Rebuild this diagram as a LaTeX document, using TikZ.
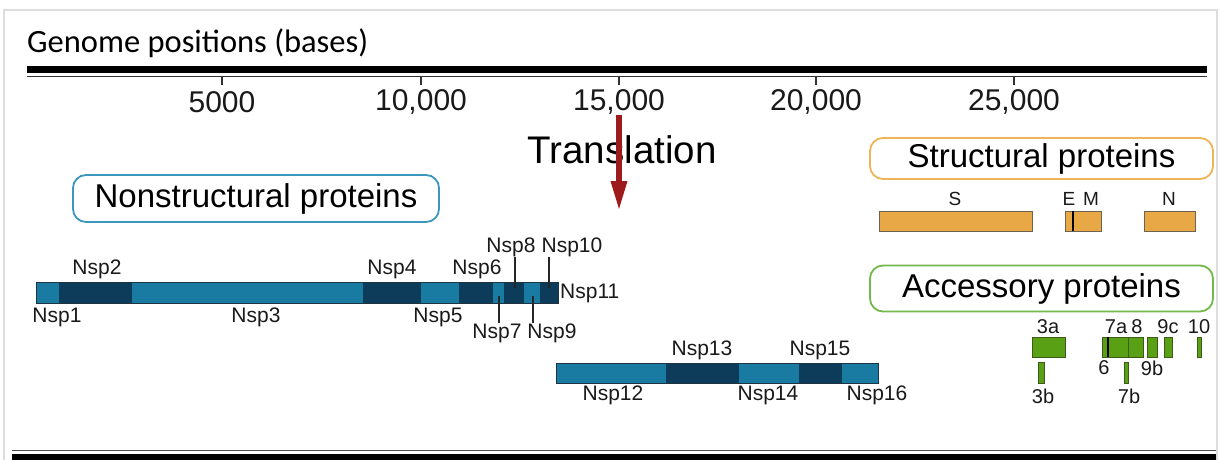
\documentclass[tikz,border=0pt]{standalone}
\usepackage{fontspec}
\setmainfont{Liberation Sans}
\newfontfamily\calfont{Carlito}
\usetikzlibrary{arrows.meta}
\definecolor{nlight}{HTML}{1A7BA2}
\definecolor{ndark}{HTML}{0C3C5A}
\definecolor{nedge}{HTML}{1E3442}
\definecolor{sfill}{HTML}{E9A846}
\definecolor{sedge}{HTML}{6E6250}
\definecolor{afill}{HTML}{5AA014}
\definecolor{aedge}{HTML}{3C5A1A}
\definecolor{nbox}{HTML}{3C97BE}
\definecolor{sbox}{HTML}{F0B458}
\definecolor{abox}{HTML}{72B84A}
\definecolor{darkred}{HTML}{9E1B1B}
\definecolor{framegrey}{HTML}{DDDDDD}
\tikzset{
  lab/.style={font=\fontsize{21}{24}\selectfont, inner sep=0pt, text=black!90},
  slab/.style={font=\fontsize{19}{21}\selectfont, inner sep=0pt, text=black!90},
  alab/.style={font=\fontsize{20}{22}\selectfont, inner sep=0pt, text=black!90},
  ticklab/.style={font=\fontsize{30}{33}\selectfont, inner sep=0pt, text=black!90},
  catbox/.style={draw, line width=1.8pt, rounded corners=13pt, inner sep=0pt, font=\fontsize{33}{36}\selectfont, text=black},
  leader/.style={line width=1.3pt, black!85},
  segedge/.style={draw=nedge, line width=0.8pt},
}
\begin{document}
\begin{tikzpicture}[x=1pt,y=-1pt]
\useasboundingbox (0,0) rectangle (1221,460);
% frame
\draw[framegrey, line width=1.5pt] (4,460) -- (4,10) -- (1217,10) -- (1217,460);
% title
\node[font=\calfont\fontsize{32.5}{36}\selectfont, anchor=west, inner sep=0pt] (title) at (27,43) {Genome positions (bases)};
% top axis
\fill[black] (27,66) rectangle (1207,73);
\draw[black!80, line width=1.2pt] (27,76.5) -- (1207,76.5);
\foreach \x/\t [count=\i] in {222/5000,421/{10,000},619/{15,000},816/{20,000},1014/{25,000}}{
  \draw[black!80, line width=1.5pt] (\x,76) -- (\x,85);
  \node[ticklab] (tick\i) at (\x,102) {\t};
}
% bottom bar
\draw[black!70, line width=1.2pt] (12,450.5) -- (1216,450.5);
\fill[black] (12,454) rectangle (1216,460);
% translation
\node[font=\fontsize{38.5}{42}\selectfont, inner sep=0pt] (transl) at (622,150) {Translation};
\coordinate (arrtop) at (619,115);
\coordinate (arrbot) at (619,211);
\draw[darkred, line width=6pt, -{Triangle[width=15pt,length=30pt]}] (arrtop) -- (arrbot);
% category boxes
\node[catbox, draw=nbox, minimum width=366pt, minimum height=47pt] (nsbox) at (256,198.5) {Nonstructural proteins};
\node[catbox, draw=sbox, minimum width=343pt, minimum height=41pt] (stbox) at (1041.5,158.5) {Structural proteins};
\node[catbox, draw=abox, minimum width=343pt, minimum height=46pt] (acbox) at (1041.5,288.5) {Accessory proteins};
% ORF1a bar
\foreach \a/\b/\c in {36/59/nlight,59/132/ndark,132/363/nlight,363/421/ndark,421/459/nlight,459/493/ndark,493/504/nlight,504/524/ndark,524/540/nlight,540/558/ndark}{
  \fill[\c] (\a,282) rectangle (\b,303);
  \draw[nedge, line width=0.6pt] (\b,282) -- (\b,303);
}
\draw[segedge] (36,282) rectangle (558,303);
\node[lab] (nsp1) at (57,317) {Nsp1};
\node[lab] (nsp2) at (97,269) {Nsp2};
\node[lab] (nsp3) at (256,317) {Nsp3};
\node[lab] (nsp4) at (392,269) {Nsp4};
\node[lab] (nsp5) at (438,317) {Nsp5};
\node[lab] (nsp6) at (477,269) {Nsp6};
\node[lab] (nsp7) at (497,333) {Nsp7};
\node[lab] (nsp8) at (511,247) {Nsp8};
\node[lab] (nsp9) at (552,333) {Nsp9};
\node[lab] (nsp10) at (572,247) {Nsp10};
\node[lab, anchor=west] (nsp11) at (560,293) {Nsp11};
\coordinate (l7) at (499,296);
\coordinate (l8) at (515,288);
\coordinate (l9) at (533,296);
\coordinate (l10) at (549,288);
\draw[leader] (nsp7.north -| l7) -- (l7);
\draw[leader] (nsp8.south -| l8) -- (l8);
\draw[leader] (nsp9.north -| l9) -- (l9);
\draw[leader] (nsp10.south -| l10) -- (l10);
% ORF1b bar
\foreach \a/\b/\c in {556/666/nlight,666/739/ndark,739/799/nlight,799/842/ndark,842/878/nlight}{
  \fill[\c] (\a,363) rectangle (\b,383);
  \draw[nedge, line width=0.6pt] (\b,363) -- (\b,383);
}
\draw[segedge] (556,363) rectangle (878,383);
\node[lab] (nsp12) at (613,395) {Nsp12};
\node[lab] (nsp13) at (702,350) {Nsp13};
\node[lab] (nsp14) at (768,395) {Nsp14};
\node[lab] (nsp15) at (820,350) {Nsp15};
\node[lab] (nsp16) at (877,395) {Nsp16};
% structural
\tikzset{sbar/.style={fill=sfill, draw=sedge, line width=0.9pt}}
\draw[sbar] (879,211) rectangle (1032,231);
\draw[sbar] (1065,211) rectangle (1101,231);
\draw[black, line width=2pt] (1073,211) -- (1073,231);
\draw[sbar] (1144,211) rectangle (1195,231);
\node[slab] (S) at (955,199) {S};
\node[slab] (E) at (1069,199) {E};
\node[slab] (M) at (1091,199) {M};
\node[slab] (N) at (1169,199) {N};
% accessory
\tikzset{abar/.style={fill=afill, draw=aedge, line width=0.8pt}}
\draw[abar] (1032,337) rectangle (1065,357);
\draw[abar] (1038,362) rectangle (1044,383);
\draw[abar] (1102,337) rectangle (1128,357);
\draw[black, line width=1.5pt] (1108,337) -- (1108,357);
\draw[abar] (1124,362) rectangle (1128,383);
\draw[abar] (1128,337) rectangle (1143,357);
\draw[abar] (1147,337) rectangle (1157,357);
\draw[abar] (1164,337) rectangle (1172,357);
\draw[abar] (1197,337) rectangle (1201,357);
\node[alab] (a3a) at (1048,327) {3a};
\node[alab] (a3b) at (1043,396) {3b};
\node[alab] (a6) at (1104,368) {6};
\node[alab] (a7a) at (1116,327) {7a};
\node[alab] (a7b) at (1129,396) {7b};
\node[alab] (a8) at (1137,327) {8};
\node[alab] (a9b) at (1152,368) {9b};
\node[alab] (a9c) at (1168,327) {9c};
\node[alab] (a10) at (1199,327) {10};
\end{tikzpicture}
\end{document}
